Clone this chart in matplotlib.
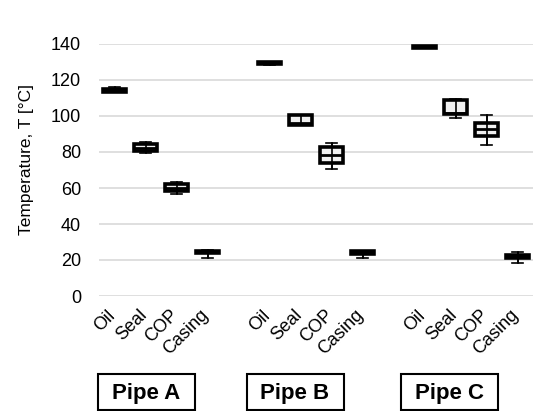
import matplotlib
matplotlib.use("Agg")
import matplotlib.pyplot as plt
import matplotlib.transforms as mtransforms
from matplotlib.patches import Rectangle

plt.rcParams["font.family"] = ["Liberation Sans", "DejaVu Sans"]

# data
parts = ["Oil", "Seal", "COP", "Casing"]
pipes = ["Pipe A", "Pipe B", "Pipe C"]
whis_lo = [113.5, 79.3, 56.7, 21.3, 128.5, 95.0, 70.6, 21.3, 138.0, 98.9, 83.9, 18.3]
q1 = [113.5, 80.6, 58.3, 23.7, 128.7, 95.2, 73.7, 23.3, 138.0, 101.0, 88.9, 21.1]
median = [114.3, 82.4, 60.0, 24.4, 129.3, 96.0, 78.2, 24.0, 138.5, 101.5, 92.6, 22.0]
q3 = [114.8, 84.4, 62.0, 25.2, 129.8, 100.3, 82.6, 25.2, 139.0, 108.9, 95.9, 22.6]
whis_hi = [116.0, 85.7, 63.5, 25.5, 130.0, 100.5, 85.2, 25.2, 139.0, 109.6, 100.5, 24.6]
positions = [0, 1, 2, 3, 5, 6, 7, 8, 10, 11, 12, 13]

fig = plt.figure(figsize=(5.39, 4.11), dpi=100)
ax = fig.add_axes([99 / 539, 1 - 296 / 411, 434 / 539, 252 / 411])

stats = []
for i in range(len(positions)):
    stats.append(dict(whislo=whis_lo[i], q1=q1[i], med=median[i],
                      q3=q3[i], whishi=whis_hi[i], fliers=[]))

ax.bxp(stats, positions=positions, widths=0.75, capwidths=0.33,
       patch_artist=True, showfliers=False,
       boxprops=dict(facecolor="#f0f0f0", edgecolor="black", linewidth=2.6),
       medianprops=dict(color="black", linewidth=2.0),
       whiskerprops=dict(color="black", linewidth=1.2),
       capprops=dict(color="black", linewidth=1.2),
       zorder=3)
# whisker line drawn through the box, like the original
ax.vlines(positions, whis_lo, whis_hi, color="black", linewidth=1.2, zorder=4)

ax.set_xlim(-0.5, 13.5)
ax.set_ylim(0, 140)
ax.set_yticks(range(0, 141, 20))
ax.grid(axis="y", color="#d9d9d9", linewidth=1.2, zorder=0)
ax.set_axisbelow(True)
for s in ax.spines.values():
    s.set_visible(False)

ax.set_xticks(positions)
ax.set_xticklabels(parts * 3, rotation=45, ha="right", va="center",
                   rotation_mode="anchor", fontsize=13)
ax.tick_params(axis="x", length=0, pad=12)
ax.tick_params(axis="y", length=0, pad=13, labelsize=13)
shift = mtransforms.ScaledTranslation(-1 / 72, 0, fig.dpi_scale_trans)
for lab in ax.get_xticklabels():
    lab.set_transform(lab.get_transform() + shift)

ax.set_ylabel("Temperature, T [°C]", fontsize=12.5)
ax.yaxis.set_label_coords(-0.15, 0.54)

# pipe label boxes below the axis
box_centers = [146.5, 295.0, 449.5]
for name, cx in zip(pipes, box_centers):
    fig.add_artist(Rectangle(((cx - 48.5) / 539, 1 - 410 / 411), 97 / 539, 36 / 411,
                             transform=fig.transFigure, fill=False,
                             edgecolor="black", linewidth=1.5))
    fig.text(cx / 539, 1 - 393 / 411, name, ha="center", va="center",
             fontsize=16, fontweight="bold")

fig.savefig("out.png", dpi=100)
